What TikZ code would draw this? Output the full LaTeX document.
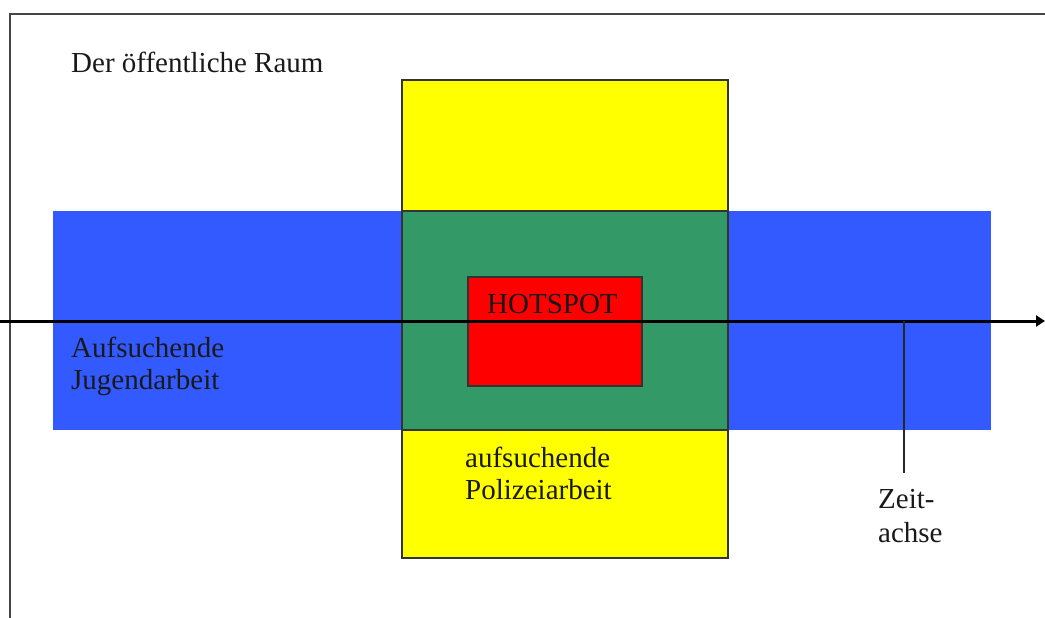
\documentclass[tikz,border=0pt]{standalone}
\usepackage{fontspec}
\setmainfont{Liberation Serif}
\usetikzlibrary{arrows.meta}
\definecolor{zoneblue}{RGB}{51,90,255}
\definecolor{zoneyellow}{RGB}{255,255,0}
\definecolor{zonegreen}{RGB}{51,153,102}
\definecolor{zonered}{RGB}{255,0,0}
\definecolor{framegray}{RGB}{70,70,70}
\begin{document}
\begin{tikzpicture}[x=1pt,y=-1pt,
  lbl/.style={anchor=base west,inner sep=0pt,font=\fontsize{29}{32}\selectfont,text=black!90},
  zone/.style={draw=black!80,line width=1.8pt}]
\useasboundingbox (0,0) rectangle (1045,618);
% outer frame (only top and left edges visible)
\draw[framegray,line width=2.6pt] (10,618) -- (10,14) -- (1045,14);
% youth-work band
\fill[zoneblue] (53,211) rectangle (991,430);
% police-work column
\draw[zone,fill=zoneyellow] (402,80) rectangle (728,558);
% overlap of both
\draw[zone,fill=zonegreen] (402,211) rectangle (728,430);
% hotspot
\draw[zone,fill=zonered] (468,277) rectangle (642,386);
% time axis
\coordinate (axstart) at (0,321);
\coordinate (axend) at (1045,321);
\draw[line width=3pt,-{Triangle[length=9pt,width=11pt]}] (axstart) -- (axend);
% labels
\node[lbl] (raum) at (71,73) {Der öffentliche Raum};
\node[lbl] (hot) at (487,313) {HOTSPOT};
\node[lbl] (jug1) at (71,357) {Aufsuchende};
\node[lbl] (jug2) at (71,389) {Jugendarbeit};
\node[lbl] (pol1) at (465,467) {aufsuchende};
\node[lbl] (pol2) at (465,499) {Polizeiarbeit};
\node[lbl] (zeit1) at (878,508) {Zeit-};
\node[lbl] (zeit2) at (878,542) {achse};
% pointer from the axis to its label
\coordinate (ztop) at (904,321);
\coordinate (zbot) at (904,473);
\draw[line width=1.6pt,black!85] (ztop) -- (zbot);
\end{tikzpicture}
\end{document}
